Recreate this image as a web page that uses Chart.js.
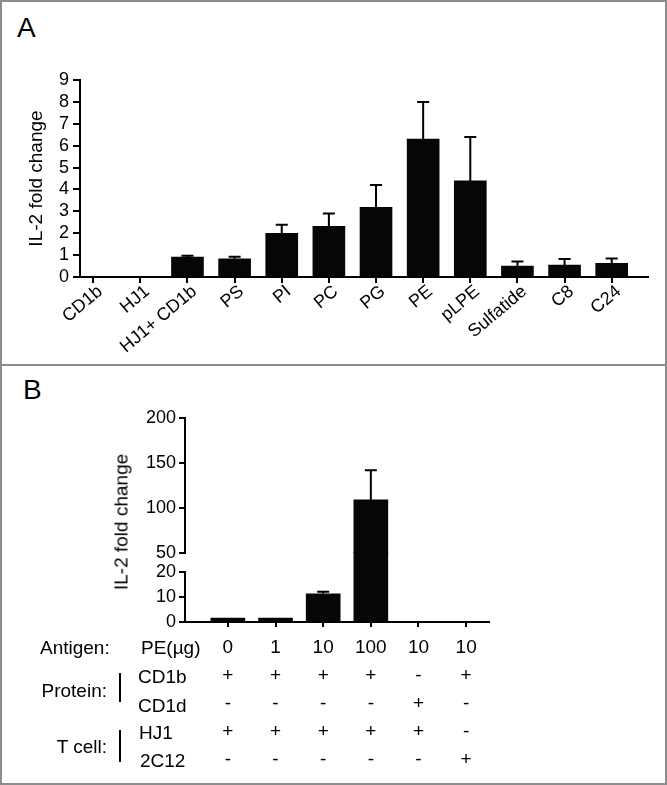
<!DOCTYPE html>
<html>
<head>
<meta charset="utf-8">
<script src="https://cdn.jsdelivr.net/npm/chart.js@4/dist/chart.umd.min.js"></script>
<style>
  body { margin: 0; background: #fff; font-family: "Liberation Sans", Arial, sans-serif; }
  #fig { position: relative; width: 667px; height: 785px; overflow: hidden; background: #fff; }
  .frame { position: absolute; border: 2px solid #8c8c8c; box-sizing: border-box; }
  .letter { position: absolute; font-size: 28px; line-height: 1; color: #000; }
  canvas { position: absolute; left: 0; }
  .lbl { position: absolute; font-size: 19px; line-height: 1; color: #000; white-space: nowrap; }
  .vbar { position: absolute; width: 2px; background: #000; }
  .ytitle { position: absolute; font-size: 19px; line-height: 1; white-space: nowrap;
            transform: translate(-50%, -50%) rotate(-90deg); }
</style>
</head>
<body>
<div id="fig">
  <div class="frame" style="left:0;top:0;width:667px;height:366px;"></div>
  <div class="frame" style="left:0;top:364px;width:667px;height:421px;"></div>
  <div class="letter" style="left:17px;top:14px;">A</div>
  <div class="letter" style="left:23px;top:376px;">B</div>

  <canvas id="chartA" width="667" height="365" style="top:0;"></canvas>
  <canvas id="chartBhigh" width="667" height="200" style="top:380px;"></canvas>
  <canvas id="chartBlow" width="667" height="245" style="top:540px;"></canvas>

  <div class="ytitle" style="left:121px;top:522px;">IL-2 fold change</div>

  <div class="lbl" style="left:40px;top:638px;">Antigen:</div>
  <div class="lbl" style="left:141px;top:638px;">PE(µg)</div>
  <div class="lbl" style="right:560px;top:681px;">Protein:</div>
  <div class="lbl" style="left:138px;top:667px;">CD1b</div>
  <div class="lbl" style="left:138px;top:696px;">CD1d</div>
  <div class="lbl" style="right:560px;top:737px;">T cell:</div>
  <div class="lbl" style="left:139px;top:723px;">HJ1</div>
  <div class="lbl" style="left:140px;top:751px;">2C12</div>
  <div class="vbar" style="left:119px;top:673px;height:29px;"></div>
  <div class="vbar" style="left:119px;top:730px;height:32px;"></div>
</div>

<script>
// Panel A
const aCategories = ["CD1b", "HJ1", "HJ1+ CD1b", "PS", "PI", "PC", "PG", "PE", "pLPE", "Sulfatide", "C8", "C24"];
const aValues = [0, 0, 0.91, 0.83, 2.0, 2.31, 3.18, 6.30, 4.39, 0.50, 0.55, 0.62];
const aErrors = [0, 0, 0.06, 0.10, 0.39, 0.59, 1.02, 1.70, 2.01, 0.21, 0.27, 0.23];
const aTicks = [0, 1, 2, 3, 4, 5, 6, 7, 8, 9];

// Panel B
const bDoses = ["0", "1", "10", "100", "10", "10"];
const bValues = [1.6, 1.6, 11.3, 109, 0, 0];
const bErrors = [0, 0, 0.8, 33, 0, 0];
const bCD1b = ["+", "+", "+", "+", "-", "+"];
const bCD1d = ["-", "-", "-", "-", "+", "-"];
const bHJ1 = ["+", "+", "+", "+", "+", "-"];
const b2C12 = ["-", "-", "-", "-", "-", "+"];
const lowTicks = [0, 10, 20];
const highTicks = [50, 100, 150, 200];

const FONT = "'Liberation Sans', Arial, sans-serif";
const BLACK = "#000";
const BAR = "#060606";

// draws upward error bars from data points that carry an err value
const errorBars = {
    id: "errorBars",
    afterDatasetsDraw(chart) {
        const ctx = chart.ctx;
        const yScale = chart.scales.y;
        chart.data.datasets.forEach((ds, i) => {
            const meta = chart.getDatasetMeta(i);
            meta.data.forEach((bar, j) => {
                const pt = ds.data[j];
                if (!pt || !pt.err) return;
                const top = Array.isArray(pt.y) ? pt.y[1] : pt.y;
                const y0 = yScale.getPixelForValue(top);
                const y1 = yScale.getPixelForValue(top + pt.err);
                ctx.save();
                ctx.strokeStyle = BLACK;
                ctx.lineWidth = 2;
                ctx.beginPath();
                ctx.moveTo(bar.x, y0);
                ctx.lineTo(bar.x, y1);
                ctx.moveTo(bar.x - 6, y1);
                ctx.lineTo(bar.x + 6, y1);
                ctx.stroke();
                ctx.restore();
            });
        });
    }
};

function axisStyle(tickLength) {
    return {
        border: { color: BLACK, width: 2 },
        grid: { offset: false, drawOnChartArea: false, drawTicks: true, tickLength: tickLength, color: BLACK, lineWidth: 2 }
    };
}

function fixedTicks(values) {
    return scale => { scale.ticks = values.map(v => ({ value: v })); };
}

const common = {
    responsive: false,
    animation: false,
    events: [],
    plugins: { legend: { display: false }, tooltip: { enabled: false } }
};

// ---- Panel A ----
new Chart(document.getElementById("chartA"), {
    type: "bar",
    data: {
        datasets: [{
            data: aValues.map((v, i) => ({ x: i, y: v, err: aErrors[i] })),
            backgroundColor: BAR,
            borderWidth: 0,
            barThickness: 32
        }]
    },
    options: {
        ...common,
        layout: { padding: { top: 80, right: 19, left: 0, bottom: 0 } },
        scales: {
            x: {
                type: "linear",
                offset: false,
                min: -0.28,
                max: 11.77,
                ...axisStyle(6),
                afterBuildTicks: fixedTicks(aCategories.map((_, i) => i)),
                afterFit: s => { s.height = 88; },
                ticks: {
                    autoSkip: false,
                    maxRotation: 40,
                    minRotation: 40,
                    padding: -2,
                    labelOffset: 7,
                    color: BLACK,
                    font: { family: FONT, size: 18 },
                    callback: v => aCategories[v]
                }
            },
            y: {
                min: 0,
                max: 9,
                ...axisStyle(7),
                afterBuildTicks: fixedTicks(aTicks),
                afterFit: s => { s.width = 80; },
                ticks: { autoSkip: false, padding: 4, color: BLACK, font: { family: FONT, size: 18 } },
                title: {
                    display: true,
                    text: "IL-2 fold change",
                    color: BLACK,
                    font: { family: FONT, size: 19 },
                    padding: { top: 25, bottom: 0 }
                }
            }
        }
    },
    plugins: [errorBars]
});

// ---- Panel B, upper segment (50-200) ----
const bXScale = {
    type: "linear",
    offset: false,
    min: -0.9,
    max: 5.48
};

new Chart(document.getElementById("chartBhigh"), {
    type: "bar",
    data: {
        datasets: [{
            data: bValues
                .map((v, i) => ({ x: i, y: [highTicks[0], v], err: bErrors[i] }))
                .filter(d => d.y[1] > highTicks[0]),
            backgroundColor: BAR,
            borderWidth: 0,
            barThickness: 34
        }]
    },
    options: {
        ...common,
        layout: { padding: { top: 38, right: 178, left: 0, bottom: 27 } },
        scales: {
            x: { ...bXScale, display: false },
            y: {
                min: highTicks[0],
                max: highTicks[highTicks.length - 1],
                ...axisStyle(6),
                afterBuildTicks: fixedTicks(highTicks),
                afterFit: s => { s.width = 185; },
                ticks: { autoSkip: false, padding: 3, color: BLACK, font: { family: FONT, size: 18 } }
            }
        }
    },
    plugins: [errorBars]
});

// ---- Panel B, lower segment (0-20) with condition table as tick labels ----
const lowMax = lowTicks[lowTicks.length - 1];
new Chart(document.getElementById("chartBlow"), {
    type: "bar",
    data: {
        datasets: [{
            data: bValues.map((v, i) => ({ x: i, y: v, err: v + bErrors[i] <= lowMax ? bErrors[i] : 0 })),
            backgroundColor: BAR,
            borderWidth: 0,
            barThickness: 34,
            clip: { left: 0, right: 0, top: 20, bottom: 0 }
        }]
    },
    options: {
        ...common,
        layout: { padding: { top: 32, right: 178, left: 0, bottom: 0 } },
        scales: {
            x: {
                ...bXScale,
                ...axisStyle(5),
                afterBuildTicks: fixedTicks(bDoses.map((_, i) => i)),
                afterFit: s => { s.height = 163; },
                ticks: {
                    autoSkip: false,
                    maxRotation: 0,
                    minRotation: 0,
                    padding: 7,
                    color: BLACK,
                    font: { family: FONT, size: 19, lineHeight: 1.474 },
                    callback: v => [bDoses[v], bCD1b[v], bCD1d[v], bHJ1[v], b2C12[v]]
                }
            },
            y: {
                min: 0,
                max: lowMax,
                ...axisStyle(6),
                afterBuildTicks: fixedTicks(lowTicks),
                afterFit: s => { s.width = 185; },
                ticks: { autoSkip: false, padding: 3, color: BLACK, font: { family: FONT, size: 18 } }
            }
        }
    },
    plugins: [errorBars]
});
</script>
</body>
</html>
